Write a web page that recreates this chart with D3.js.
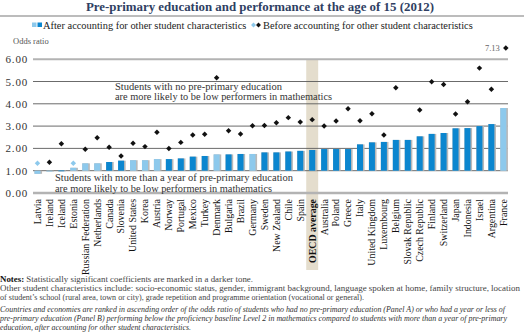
<!DOCTYPE html>
<html>
<head>
<meta charset="utf-8">
<script src="https://cdn.jsdelivr.net/npm/d3@7"></script>
<style>
  body { margin: 0; background: #fff; }
  svg { display: block; font-family: "Liberation Serif", "DejaVu Serif", serif; }
</style>
</head>
<body>
<svg id="chart" width="524" height="335"></svg>
<script>
// countries, ranked as in the figure
var countries = ["Latvia", "Ireland", "Iceland", "Estonia", "Russian Federation", "Netherlands",
  "Canada", "Slovenia", "United States", "Korea", "Austria", "Norway", "Portugal", "Mexico",
  "Turkey", "Denmark", "Bulgaria", "Brazil", "Germany", "Sweden", "New Zealand", "Chile",
  "Spain", "OECD average", "Australia", "Poland", "Greece", "Italy", "United Kingdom",
  "Luxembourg", "Belgium", "Slovak Republic", "Czech Republic", "Finland", "Switzerland",
  "Japan", "Indonesia", "Israel", "Argentina", "France"];

// odds ratio after accounting for other student characteristics (bars)
var afterValues = [0.86, 0.97, 1.01, 1.13, 1.33, 1.33, 1.39, 1.45, 1.47, 1.47, 1.52, 1.52,
  1.55, 1.63, 1.66, 1.73, 1.73, 1.75, 1.75, 1.82, 1.82, 1.86, 1.89, 1.93, 1.97, 1.97, 1.97,
  2.18, 2.27, 2.29, 2.38, 2.38, 2.54, 2.65, 2.69, 2.90, 2.91, 3.00, 3.09, 3.81];
// 1 = statistically significant (darker tone)
var afterSig = [0, 0, 1, 0, 0, 0, 1, 1, 0, 0, 0, 1, 1, 1, 1, 0, 1, 1, 0, 1, 1, 1, 1, 1, 1, 1, 1,
  1, 1, 1, 1, 1, 1, 1, 1, 1, 1, 1, 1, 0];

// odds ratio before accounting for other student characteristics (diamonds)
var beforeValues = [1.33, 1.38, 2.21, 1.33, 1.96, 2.48, 2.05, 1.66, 2.23, 2.08, 2.72, 2.00,
  2.27, 2.60, 2.63, 5.17, 2.79, 2.65, 3.02, 3.03, 3.15, 3.38, 3.18, 3.29, 3.00, 3.23, 3.78,
  3.24, 3.55, 2.60, 4.72, null, 3.72, 4.99, 4.87, 3.54, 4.09, 5.60, 4.65, 7.13];
var beforeSig = [0, 1, 1, 0, 1, 1, 1, 1, 1, 1, 1, 1, 1, 1, 1, 1, 1, 1, 1, 1, 1, 1, 1, 1, 1, 1, 1,
  1, 1, 1, 1, 1, 1, 1, 1, 1, 1, 1, 1, 1];

var yTicks = [0, 1, 2, 3, 4, 5, 6];

var darkBlue = "#0b86cf", lightBlue = "#8dc9ec";

var svg = d3.select("#chart");

var x = d3.scaleBand().domain(countries).range([31.5, 509.3]);
var y = d3.scaleLinear().domain([0, 6]).range([193, 59.2]);
var bw = x.bandwidth();

// title
svg.append("text")
  .attr("x", 260).attr("y", 11)
  .attr("text-anchor", "middle")
  .attr("font-size", 12.9).attr("font-weight", "bold")
  .attr("fill", "#2f3f63")
  .text("Pre-primary education and performance at the age of 15 (2012)");
svg.append("line")
  .attr("x1", 0).attr("x2", 524).attr("y1", 16).attr("y2", 16)
  .attr("stroke", "#a6a6a6").attr("stroke-width", 1.5);

// legend
var legend = svg.append("g").attr("font-size", 10.4).attr("fill", "#222");
legend.append("rect").attr("x", 32).attr("y", 22.5).attr("width", 4.5).attr("height", 4.5).attr("fill", lightBlue);
legend.append("rect").attr("x", 37.5).attr("y", 22.5).attr("width", 4.5).attr("height", 4.5).attr("fill", darkBlue);
legend.append("text").attr("x", 43).attr("y", 28.5).text("After accounting for other student characteristics");
legend.append("path").attr("d", d3.symbol(d3.symbolSquare, 12)())
  .attr("transform", "translate(253.5,25) rotate(45)").attr("fill", lightBlue);
legend.append("path").attr("d", d3.symbol(d3.symbolSquare, 12)())
  .attr("transform", "translate(258.5,25) rotate(45)").attr("fill", "#111");
legend.append("text").attr("x", 263).attr("y", 28.5).text("Before accounting for other student characteristics");

svg.append("text")
  .attr("x", 13).attr("y", 44)
  .attr("font-size", 8.5).attr("fill", "#555")
  .text("Odds ratio");

// OECD average highlight
svg.append("rect")
  .attr("x", x("OECD average")).attr("y", y(6))
  .attr("width", bw).attr("height", 270 - y(6))
  .attr("fill", "#e4ddcd");

// gridlines
svg.append("g").selectAll("line")
  .data(yTicks)
  .join("line")
  .attr("x1", 33).attr("x2", 508)
  .attr("y1", function(d) { return y(d); })
  .attr("y2", function(d) { return y(d); })
  .attr("stroke", function(d) { return (d === 0 || d === 6) ? "#b3b3b3" : "#5a5a5a"; })
  .attr("stroke-width", function(d) { return d === 0 ? 2.5 : (d === 6 ? 2 : 0.9); });

// y axis labels
var yAxis = svg.append("g")
  .attr("transform", "translate(30,0)")
  .call(d3.axisLeft(y).tickValues(yTicks).tickFormat(d3.format(".2f")).tickSize(0).tickPadding(2));
yAxis.select(".domain").remove();
yAxis.selectAll("text")
  .attr("font-family", "Liberation Serif, serif")
  .attr("font-size", 11).attr("letter-spacing", 0.8).attr("fill", "#333");

// annotations
var note = svg.append("g").attr("font-size", 10.6).attr("fill", "#333");
note.append("text").attr("x", 115).attr("y", 89.5)
  .attr("textLength", 167).attr("lengthAdjust", "spacingAndGlyphs")
  .text("Students with no pre-primary education");
note.append("text").attr("x", 115).attr("y", 100)
  .attr("textLength", 217).attr("lengthAdjust", "spacingAndGlyphs")
  .text("are more likely to be low performers in mathematics");
note.append("text").attr("x", 55).attr("y", 181)
  .attr("textLength", 238).attr("lengthAdjust", "spacingAndGlyphs")
  .text("Students with more than a year of pre-primary education");
note.append("text").attr("x", 55).attr("y", 191.5)
  .attr("textLength", 217).attr("lengthAdjust", "spacingAndGlyphs")
  .text("are more likely to be low performers in mathematics");

// bars, drawn from 1.00
var barW = 6;
var bars = svg.append("g");
countries.forEach(function(c, i) {
  var v = afterValues[i];
  var top = Math.min(y(v), y(1)), h = Math.max(Math.abs(y(v) - y(1)), 0.8);
  var bx = x(c) + (bw - barW) / 2;
  bars.append("rect")
    .attr("x", bx).attr("y", top).attr("width", barW + 1.6).attr("height", h)
    .attr("fill", "#b9b9b9");
  bars.append("rect")
    .attr("x", bx).attr("y", top).attr("width", barW).attr("height", h)
    .attr("fill", afterSig[i] ? darkBlue : lightBlue);
});

// diamonds
var diamond = d3.symbol(d3.symbolSquare, 15)();
var dots = svg.append("g");
countries.forEach(function(c, i) {
  var v = beforeValues[i];
  if (v === null) return;
  var cx = x(c) + bw / 2, cy = v > 6 ? 48 : y(v);
  if (v > 6) {
    cx += 2.5;
    svg.append("text")
      .attr("x", cx - 6).attr("y", cy + 2.8)
      .attr("text-anchor", "end")
      .attr("font-size", 8.5).attr("fill", "#666")
      .text(d3.format(".2f")(v));
  }
  dots.append("path")
    .attr("d", diamond)
    .attr("transform", "translate(" + cx + "," + cy + ") rotate(45)")
    .attr("fill", beforeSig[i] ? "#111" : lightBlue);
});

// country labels
svg.append("g").selectAll("text")
  .data(countries)
  .join("text")
  .attr("transform", function(d) { return "translate(" + (x(d) + bw / 2 + 3.4) + ",199) rotate(-90)"; })
  .attr("text-anchor", "end")
  .attr("font-size", 9.9)
  .attr("font-weight", function(d) { return d === "OECD average" ? "bold" : "normal"; })
  .attr("fill", "#111")
  .text(function(d) { return d; });

// notes (stretched to the widths of the original lines)
var notes = svg.append("g").attr("font-size", 8.2).attr("fill", "#444");
var n1 = notes.append("text").attr("x", 0).attr("y", 282)
  .attr("textLength", 253).attr("lengthAdjust", "spacingAndGlyphs");
n1.append("tspan").attr("font-weight", "bold").attr("fill", "#111").text("Notes: ");
n1.append("tspan").text("Statistically significant coefficients are marked in a darker tone.");
notes.append("text").attr("x", 0).attr("y", 291)
  .attr("textLength", 520).attr("lengthAdjust", "spacingAndGlyphs")
  .text("Other student characteristics include: socio-economic status, gender, immigrant background, language spoken at home, family structure, location");
notes.append("text").attr("x", 0).attr("y", 300)
  .attr("textLength", 364).attr("lengthAdjust", "spacingAndGlyphs")
  .text("of student\u2019s school (rural area, town or city), grade repetition and programme orientation (vocational or general).");
var it = notes.append("g").attr("font-style", "italic").attr("font-size", 7.6).attr("fill", "#333");
it.append("text").attr("x", 0).attr("y", 312)
  .attr("textLength", 505).attr("lengthAdjust", "spacingAndGlyphs")
  .text("Countries and economies are ranked in ascending order of the odds ratio of students who had no pre-primary education (Panel A) or who had a year or less of");
it.append("text").attr("x", 0).attr("y", 321)
  .attr("textLength", 507).attr("lengthAdjust", "spacingAndGlyphs")
  .text("pre-primary education (Panel B) performing below the proficiency baseline Level 2 in mathematics compared to students with more than a year of pre-primary");
it.append("text").attr("x", 0).attr("y", 330)
  .attr("textLength", 191).attr("lengthAdjust", "spacingAndGlyphs")
  .text("education, after accounting for other student characteristics.");
</script>
</body>
</html>
